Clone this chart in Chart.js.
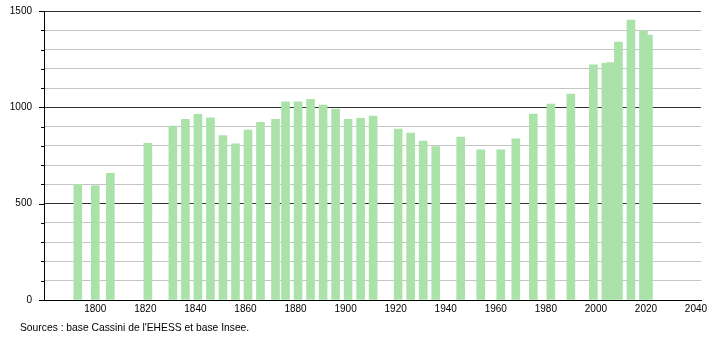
<!DOCTYPE html>
<html>
<head>
<meta charset="utf-8">
<script src="https://cdn.jsdelivr.net/npm/chart.js@4/dist/chart.umd.min.js"></script>
<style>
  html, body { margin: 0; padding: 0; background: #fff; }
  #wrap { position: relative; width: 710px; height: 340px; }
  #note { position: absolute; left: 20px; top: 322px; font: 10.3px "Liberation Sans", Arial, sans-serif; color: #000; white-space: nowrap; }
</style>
</head>
<body>
<div id="wrap">
  <canvas id="c" width="710" height="340"></canvas>
  <div id="note">Sources : base Cassini de l'EHESS et base Insee.</div>
</div>
<script>
const years = [1793,1800,1806,1821,1831,1836,1841,1846,1851,1856,1861,1866,1872,1876,1881,1886,1891,1896,1901,1906,1911,1921,1926,1931,1936,1946,1954,1962,1968,1975,1982,1990,1999,2004,2006,2009,2014,2019,2021];
const population = [600,592,657,813,903,938,964,945,853,810,882,922,938,1029,1029,1041,1012,991,938,943,955,887,867,825,796,846,779,779,836,965,1017,1069,1220,1228,1232,1339,1453,1398,1375];
const xTickValues = [1800,1820,1840,1860,1880,1900,1920,1940,1960,1980,2000,2020,2040];
const yLabelValues = [0,500,1000,1500];

const tickMarks = {
  id: 'tickMarks',
  afterDraw(chart) {
    const y = chart.scales.y;
    const ctx = chart.ctx;
    const left = chart.chartArea.left;
    ctx.save();
    ctx.strokeStyle = '#000';
    ctx.lineWidth = 1;
    y.ticks.forEach(t => {
      const py = Math.round(y.getPixelForValue(t.value)) + 0.5;
      const len = (t.value % 500 === 0) ? 5 : 3;
      ctx.beginPath();
      ctx.moveTo(left - len, py);
      ctx.lineTo(left, py);
      ctx.stroke();
    });
    ctx.restore();
  }
};

new Chart(document.getElementById('c'), {
  type: 'bar',
  data: {
    datasets: [{
      data: years.map((yr, i) => ({ x: yr, y: population[i] })),
      backgroundColor: 'rgb(170,226,170)',
      borderWidth: 0,
      barThickness: 8
    }]
  },
  options: {
    responsive: false,
    animation: false,
    layout: { padding: { top: 11, right: 9, left: 0, bottom: 0 } },
    plugins: { legend: { display: false }, tooltip: { enabled: false } },
    scales: {
      x: {
        type: 'linear',
        offset: false,
        min: 1779.5,
        max: 2042,
        afterBuildTicks(scale) { scale.ticks = xTickValues.map(v => ({ value: v })); },
        afterFit(scale) { scale.height = 40; scale.paddingLeft = 0; scale.paddingRight = 0; },
        grid: { display: false, drawTicks: false, offset: false },
        border: { display: true, color: '#000', width: 1 },
        ticks: {
          padding: 3,
          maxRotation: 0,
          autoSkip: false,
          color: '#000',
          font: { family: '"Liberation Sans", Arial, sans-serif', size: 10 },
          callback: v => String(v)
        }
      },
      y: {
        min: 0,
        max: 1500,
        afterFit(scale) { scale.width = 44; scale.paddingTop = 0; scale.paddingBottom = 0; },
        grid: {
          drawTicks: false,
          color: ctx => (ctx.tick && ctx.tick.value % 500 === 0) ? '#333' : '#c4c4c4',
          lineWidth: 1
        },
        border: { display: true, color: '#000', width: 1 },
        ticks: {
          stepSize: 100,
          padding: 12,
          autoSkip: false,
          color: '#000',
          font: { family: '"Liberation Sans", Arial, sans-serif', size: 10 },
          callback: v => yLabelValues.includes(v) ? String(v) : ''
        }
      }
    }
  },
  plugins: [tickMarks]
});
</script>
</body>
</html>
